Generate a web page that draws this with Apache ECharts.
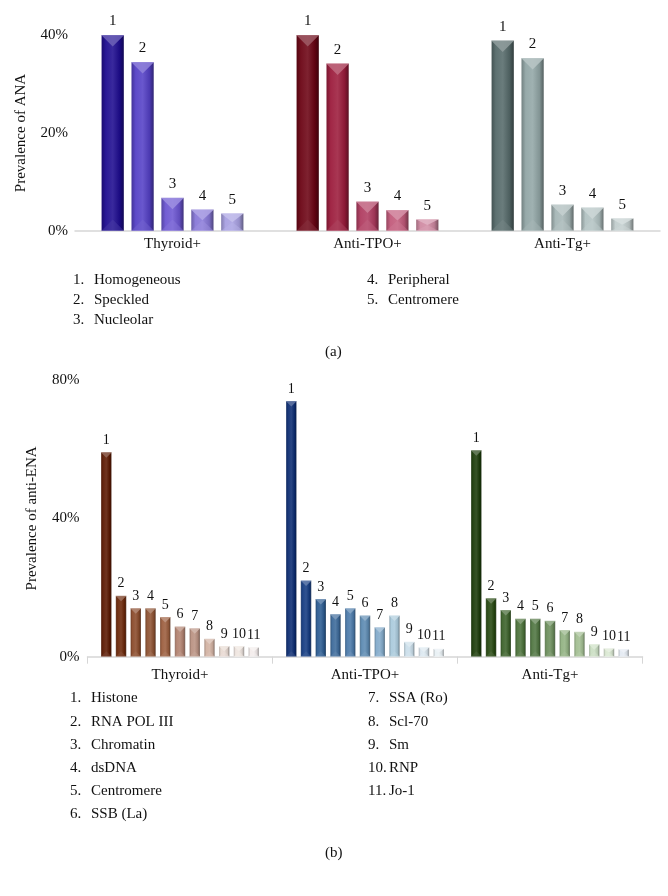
<!DOCTYPE html>
<html>
<head>
<meta charset="utf-8">
<script src="https://cdn.jsdelivr.net/npm/echarts@6/dist/echarts.min.js"></script>
<style>
html,body{margin:0;padding:0;background:#fff;}
#chart{width:668px;height:896px;}
</style>
</head>
<body>
<div id="chart"></div>
<script>
// ---- data ----
const groups = ['Thyroid+', 'Anti-TPO+', 'Anti-Tg+'];
const anaPatterns = ['Homogeneous', 'Speckled', 'Nucleolar', 'Peripheral', 'Centromere'];
const anaThyroid = [40.0, 34.5, 6.8, 4.4, 3.6];
const anaTPO = [40.0, 34.2, 6.0, 4.3, 2.4];
const anaTg = [38.9, 35.3, 5.4, 4.8, 2.6];
const anaTicks = [0, 20, 40];

const enaAntigens = ['Histone', 'RNA POL III', 'Chromatin', 'dsDNA', 'Centromere', 'SSB (La)',
  'SSA (Ro)', 'Scl-70', 'Sm', 'RNP', 'Jo-1'];
const enaThyroid = [59.1, 17.6, 14.0, 14.0, 11.5, 8.7, 8.2, 5.2, 3.1, 3.1, 2.8];
const enaTPO = [73.9, 22.0, 16.7, 12.3, 14.0, 11.9, 8.5, 11.9, 4.3, 2.7, 2.3];
const enaTg = [59.7, 16.9, 13.5, 11.0, 11.0, 10.4, 7.7, 7.2, 3.6, 2.4, 2.2];
const enaTicks = [0, 40, 80];

// ---- colours ----
const anaColors = [
  ['#1e0c90', '#5440c6', '#6c56d2', '#8878d8', '#a8a0e2'],
  ['#6c0414', '#9c1c3c', '#b03c60', '#c25a7a', '#d08aa2'],
  ['#566a6a', '#92a6a6', '#a6b6b6', '#b2c2c2', '#c2cece']
];
const enaColors = [
  ['#5c1a02', '#6c280a', '#8a4a2a', '#8e5232', '#9c5e3e', '#b28270', '#ba9282', '#d2b2a2', '#e8dad2', '#efe5df', '#f3eceb'],
  ['#0c2c72', '#143c82', '#2c5c92', '#3c6a9a', '#4c7aaa', '#5c8ab2', '#82aaca', '#aacadc', '#cadeea', '#dce8f0', '#e8f0f4'],
  ['#1c3c0a', '#264810', '#3c622a', '#4c723a', '#507642', '#6c8e5c', '#92b282', '#a2be92', '#cadec2', '#dae8d2', '#e4eaf2']
];

function shade(hex, f) {
  const n = parseInt(hex.slice(1), 16);
  let r = (n >> 16) & 255, g = (n >> 8) & 255, b = n & 255;
  if (f < 0) { r = r * (1 + f); g = g * (1 + f); b = b * (1 + f); }
  else { r = r + (255 - r) * f; g = g + (255 - g) * f; b = b + (255 - b) * f; }
  return 'rgb(' + Math.round(r) + ',' + Math.round(g) + ',' + Math.round(b) + ')';
}
function grad(hex) {
  return {
    type: 'linear', x: 0, y: 0, x2: 1, y2: 0,
    colorStops: [
      { offset: 0, color: shade(hex, -0.25) },
      { offset: 0.2, color: shade(hex, 0.05) },
      { offset: 0.5, color: shade(hex, 0.12) },
      { offset: 0.8, color: shade(hex, -0.1) },
      { offset: 1, color: shade(hex, -0.45) }
    ]
  };
}

const FONT = 'Liberation Serif';
const anaSets = [anaThyroid, anaTPO, anaTg];
const enaSets = [enaThyroid, enaTPO, enaTg];

const series = [];
function addBars(names, sets, colors, axis, barW, gapRatio, fontSize, dist) {
  names.forEach((p, i) => {
    series.push({
      type: 'bar', name: p, xAxisIndex: axis, yAxisIndex: axis,
      barWidth: barW, barGap: (gapRatio * 100) + '%',
      data: sets.map((s, g) => ({ value: s[i], itemStyle: { color: grad(colors[g][i]) } })),
      label: { show: true, position: 'top', distance: dist, formatter: String(i + 1),
        fontFamily: FONT, fontSize: fontSize, color: '#111' },
      itemStyle: { borderColor: 'rgba(255,255,255,0.5)', borderWidth: 0.5 }
    });
  });
  // bevel highlights (top/bottom triangles) drawn through the same scales
  const n = names.length;
  const bevelData = [];
  sets.forEach((s, g) => s.forEach((v, i) => bevelData.push([g, v, i])));
  series.push({
    type: 'custom', xAxisIndex: axis, yAxisIndex: axis, silent: true, z: 3,
    data: bevelData,
    renderItem: function (params, api) {
      const g = api.value(0), v = api.value(1), i = api.value(2);
      const top = api.coord([g, v]);
      const base = api.coord([g, 0]);
      const gp = barW * gapRatio;
      const total = n * barW + (n - 1) * gp;
      const x0 = top[0] - total / 2 + i * (barW + gp);
      const h = base[1] - top[1];
      const th = Math.min(barW / 2, h / 2);
      const c = colors[g][i];
      return {
        type: 'group',
        children: [
          { type: 'polygon', shape: { points: [[x0, top[1]], [x0 + barW, top[1]], [x0 + barW / 2, top[1] + th]] },
            style: { fill: shade(c, 0.35), opacity: 0.85 } },
          { type: 'polygon', shape: { points: [[x0, base[1]], [x0 + barW, base[1]], [x0 + barW / 2, base[1] - th]] },
            style: { fill: shade(c, 0.2), opacity: 0.45 } }
        ]
      };
    }
  });
}
addBars(anaPatterns, anaSets, anaColors, 0, 23, 0.30, 15, 6);
addBars(enaAntigens, enaSets, enaColors, 1, 11, 0.34, 14, 5);

// legend text via graphic
const graphic = [];
function addLegend(names, x1, x2, nameOff, y0, dy, perCol) {
  names.forEach((n, i) => {
    const col = i < perCol ? 0 : 1;
    const row = col ? i - perCol : i;
    const x = col ? x2 : x1;
    const y = y0 + row * dy;
    graphic.push({ type: 'text', left: x, top: y, style: { text: (i + 1) + '.', font: '15px ' + FONT, fill: '#111' } });
    graphic.push({ type: 'text', left: x + nameOff, top: y, style: { text: n, font: '15px ' + FONT, fill: '#111' } });
  });
}
addLegend(anaPatterns, 73, 367, 21, 273, 20, 3);
addLegend(enaAntigens, 70, 368, 21, 691, 23.2, 6);
graphic.push({ type: 'text', left: 325, top: 345, style: { text: '(a)', font: '15px ' + FONT, fill: '#111' } });
graphic.push({ type: 'text', left: 325, top: 846, style: { text: '(b)', font: '15px ' + FONT, fill: '#111' } });

const axisLabelStyle = { fontFamily: FONT, fontSize: 15, color: '#111' };

const option = {
  animation: false,
  backgroundColor: '#fff',
  grid: [
    { left: 75, top: 35, width: 585, height: 196 },
    { left: 87.5, top: 380, width: 555, height: 276.7 }
  ],
  xAxis: [
    { type: 'category', gridIndex: 0, data: groups,
      axisLine: { lineStyle: { color: '#d6d6d6', width: 1.5 } }, axisTick: { show: false },
      axisLabel: Object.assign({ margin: 6 }, axisLabelStyle) },
    { type: 'category', gridIndex: 1, data: groups,
      axisLine: { lineStyle: { color: '#d6d6d6', width: 1.5 } },
      axisTick: { show: true, length: 7, lineStyle: { color: '#d6d6d6' } },
      axisLabel: Object.assign({ margin: 11 }, axisLabelStyle) }
  ],
  yAxis: [
    { type: 'value', gridIndex: 0, min: anaTicks[0], max: anaTicks[anaTicks.length - 1], interval: anaTicks[1] - anaTicks[0],
      name: 'Prevalence of ANA', nameLocation: 'middle', nameGap: 46, nameRotate: 90,
      nameTextStyle: { fontFamily: FONT, fontSize: 15, color: '#111' },
      axisLine: { show: false }, axisTick: { show: false }, splitLine: { show: false },
      axisLabel: Object.assign({ formatter: '{value}%', margin: 7 }, axisLabelStyle) },
    { type: 'value', gridIndex: 1, min: enaTicks[0], max: enaTicks[enaTicks.length - 1], interval: enaTicks[1] - enaTicks[0],
      name: 'Prevalence of anti-ENA', nameLocation: 'middle', nameGap: 48, nameRotate: 90,
      nameTextStyle: { fontFamily: FONT, fontSize: 15, color: '#111' },
      axisLine: { show: false }, axisTick: { show: false }, splitLine: { show: false },
      axisLabel: Object.assign({ formatter: '{value}%', margin: 8 }, axisLabelStyle) }
  ],
  series: series,
  graphic: graphic
};

const chart = echarts.init(document.getElementById('chart'), null, { renderer: 'canvas' });
chart.setOption(option);
</script>
</body>
</html>
